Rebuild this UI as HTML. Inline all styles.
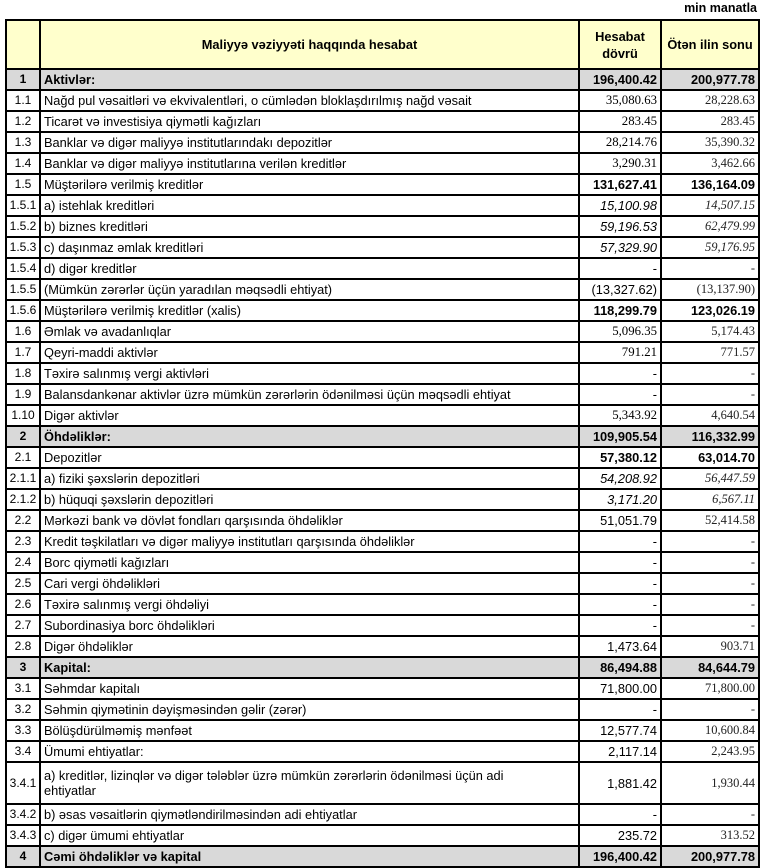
<!DOCTYPE html>
<html><head><meta charset="utf-8"><style>
body{margin:0;background:#fff;width:766px;height:868px;overflow:hidden;font-family:"Liberation Sans",sans-serif;}
.mm{position:absolute;left:660px;top:0;width:97px;text-align:right;font-weight:bold;font-size:12.5px;line-height:16px;}
table{position:absolute;left:5px;top:19px;border-collapse:collapse;table-layout:fixed;width:753px;font-size:12.8px;}
td{border:2px solid #000;height:19px;padding:0 3px;white-space:nowrap;overflow:hidden;line-height:15px;}
td:first-child{text-align:center;padding:0;font-size:12px;}
td:nth-child(3),td:nth-child(4){text-align:right;}
td:nth-child(4){font-family:"Liberation Serif",serif;font-size:12.5px;color:#222;}
.h td{background:#ffffcc;font-weight:bold;height:47px;text-align:center;line-height:17px;white-space:normal;}
.g td{background:#d9d9d9;font-weight:bold;}
.g td:nth-child(4),.b td:nth-child(3),.b td:nth-child(4){font-family:"Liberation Sans",sans-serif;font-weight:bold;color:#000;font-size:12.8px;}
.i td:nth-child(3),.i td:nth-child(4){font-style:italic;}
.s td:nth-child(3){font-family:"Liberation Serif",serif;}
.d td{height:40px;white-space:normal;}
</style></head><body>
<div class="mm">min manatla</div>
<table>
<colgroup><col style="width:34px"><col style="width:539px"><col style="width:82px"><col style="width:98px"></colgroup>
<tr class="h"><td></td><td>Maliyyə vəziyyəti haqqında hesabat</td><td style="text-align:center">Hesabat dövrü</td><td style="text-align:center;font-family:'Liberation Sans',sans-serif;color:#000;font-size:12.8px">Ötən ilin sonu</td></tr>
<tr class="g"><td>1</td><td>Aktivlər:</td><td>196,400.42</td><td>200,977.78</td></tr>
<tr class="s"><td>1.1</td><td>Nağd pul vəsaitləri və  ekvivalentləri, o cümlədən bloklaşdırılmış nağd vəsait</td><td>35,080.63</td><td>28,228.63</td></tr>
<tr class="s"><td>1.2</td><td>Ticarət və investisiya qiymətli kağızları</td><td>283.45</td><td>283.45</td></tr>
<tr class="s"><td>1.3</td><td>Banklar və digər maliyyə institutlarındakı depozitlər</td><td>28,214.76</td><td>35,390.32</td></tr>
<tr class="s"><td>1.4</td><td>Banklar və digər maliyyə institutlarına verilən kreditlər</td><td>3,290.31</td><td>3,462.66</td></tr>
<tr class="b"><td>1.5</td><td>Müştərilərə verilmiş kreditlər</td><td>131,627.41</td><td>136,164.09</td></tr>
<tr class="i"><td>1.5.1</td><td>a) istehlak kreditləri</td><td>15,100.98</td><td>14,507.15</td></tr>
<tr class="i"><td>1.5.2</td><td>b) biznes kreditləri</td><td>59,196.53</td><td>62,479.99</td></tr>
<tr class="i"><td>1.5.3</td><td>c) daşınmaz əmlak kreditləri</td><td>57,329.90</td><td>59,176.95</td></tr>
<tr><td>1.5.4</td><td>d) digər kreditlər</td><td>-</td><td>-</td></tr>
<tr><td>1.5.5</td><td>(Mümkün zərərlər üçün yaradılan məqsədli ehtiyat)</td><td>(13,327.62)</td><td>(13,137.90)</td></tr>
<tr class="b"><td>1.5.6</td><td>Müştərilərə verilmiş kreditlər (xalis)</td><td>118,299.79</td><td>123,026.19</td></tr>
<tr class="s"><td>1.6</td><td>Əmlak və avadanlıqlar</td><td>5,096.35</td><td>5,174.43</td></tr>
<tr class="s"><td>1.7</td><td>Qeyri-maddi aktivlər</td><td>791.21</td><td>771.57</td></tr>
<tr><td>1.8</td><td>Təxirə salınmış vergi aktivləri</td><td>-</td><td>-</td></tr>
<tr><td>1.9</td><td>Balansdankənar aktivlər üzrə mümkün zərərlərin ödənilməsi üçün məqsədli ehtiyat</td><td>-</td><td>-</td></tr>
<tr class="s"><td>1.10</td><td>Digər aktivlər</td><td>5,343.92</td><td>4,640.54</td></tr>
<tr class="g"><td>2</td><td>Öhdəliklər:</td><td>109,905.54</td><td>116,332.99</td></tr>
<tr class="b"><td>2.1</td><td>Depozitlər</td><td>57,380.12</td><td>63,014.70</td></tr>
<tr class="i"><td>2.1.1</td><td>a) fiziki şəxslərin depozitləri</td><td>54,208.92</td><td>56,447.59</td></tr>
<tr class="i"><td>2.1.2</td><td>b) hüquqi şəxslərin depozitləri</td><td>3,171.20</td><td>6,567.11</td></tr>
<tr><td>2.2</td><td>Mərkəzi bank və dövlət fondları qarşısında öhdəliklər</td><td>51,051.79</td><td>52,414.58</td></tr>
<tr><td>2.3</td><td>Kredit təşkilatları və digər maliyyə institutları qarşısında öhdəliklər</td><td>-</td><td>-</td></tr>
<tr><td>2.4</td><td>Borc qiymətli kağızları</td><td>-</td><td>-</td></tr>
<tr><td>2.5</td><td>Cari vergi öhdəlikləri</td><td>-</td><td>-</td></tr>
<tr><td>2.6</td><td>Təxirə salınmış vergi öhdəliyi</td><td>-</td><td>-</td></tr>
<tr><td>2.7</td><td>Subordinasiya borc öhdəlikləri</td><td>-</td><td>-</td></tr>
<tr><td>2.8</td><td>Digər öhdəliklər</td><td>1,473.64</td><td>903.71</td></tr>
<tr class="g"><td>3</td><td>Kapital:</td><td>86,494.88</td><td>84,644.79</td></tr>
<tr><td>3.1</td><td>Səhmdar kapitalı</td><td>71,800.00</td><td>71,800.00</td></tr>
<tr><td>3.2</td><td>Səhmin qiymətinin dəyişməsindən gəlir (zərər)</td><td>-</td><td>-</td></tr>
<tr><td>3.3</td><td>Bölüşdürülməmiş mənfəət</td><td>12,577.74</td><td>10,600.84</td></tr>
<tr><td>3.4</td><td>Ümumi ehtiyatlar:</td><td>2,117.14</td><td>2,243.95</td></tr>
<tr class="d"><td>3.4.1</td><td>a) kreditlər, lizinqlər və digər tələblər üzrə mümkün zərərlərin ödənilməsi üçün adi<br>ehtiyatlar</td><td>1,881.42</td><td>1,930.44</td></tr>
<tr><td>3.4.2</td><td>b) əsas vəsaitlərin qiymətləndirilməsindən adi ehtiyatlar</td><td>-</td><td>-</td></tr>
<tr><td>3.4.3</td><td>c) digər ümumi ehtiyatlar</td><td>235.72</td><td>313.52</td></tr>
<tr class="g"><td>4</td><td>Cəmi öhdəliklər və kapital</td><td>196,400.42</td><td>200,977.78</td></tr>
</table>
</body></html>
